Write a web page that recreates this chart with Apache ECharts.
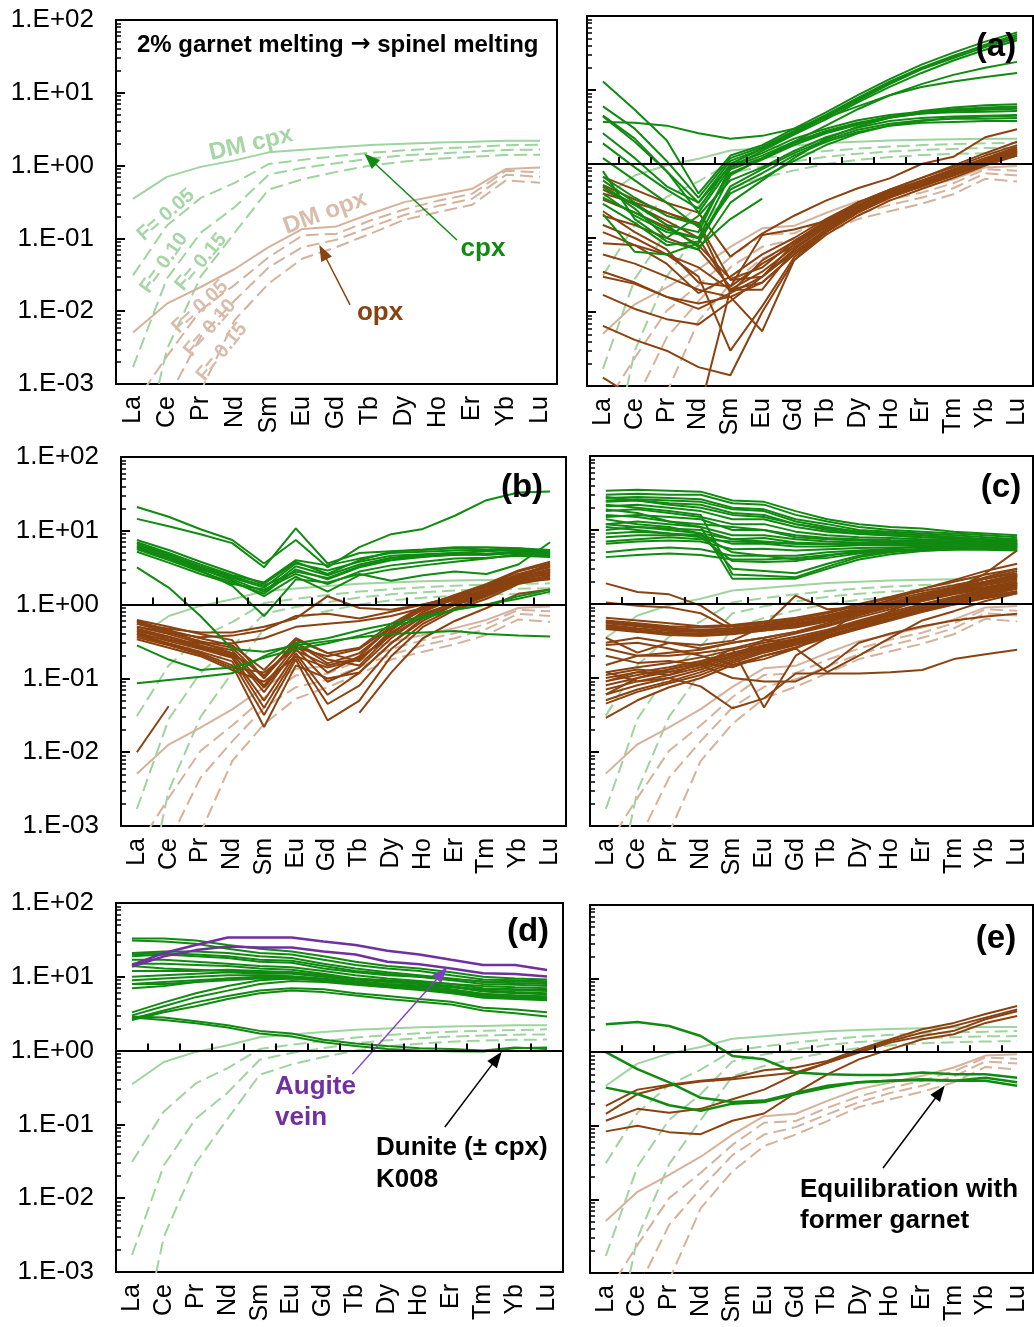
<!DOCTYPE html>
<html><head><meta charset="utf-8">
<script src="https://cdn.jsdelivr.net/npm/echarts@6/dist/echarts.min.js"></script>
<style>html,body{margin:0;padding:0;background:#fff}#c{width:1034px;height:1327px}</style>
</head><body><div id="c"></div>
<script>
// ---------- categories & ticks ----------
const REE14 = ['La','Ce','Pr','Nd','Sm','Eu','Gd','Tb','Dy','Ho','Er','Tm','Yb','Lu'];
const REE13 = ['La','Ce','Pr','Nd','Sm','Eu','Gd','Tb','Dy','Ho','Er','Yb','Lu'];
const yDecades = [-3,-2,-1,0,1,2];

// ---------- melting models (normalised values, La..Lu incl. Tm) ----------
const dmCpx  = [0.35, 0.7, 0.96, 1.18, 1.52, 1.65, 1.78, 1.92, 2.0, 2.07, 2.12, 2.16, 2.2, 2.2];
const cpxF05 = [0.031, 0.15, 0.36, 0.58, 1.05, 1.2, 1.35, 1.5, 1.62, 1.72, 1.8, 1.86, 1.9, 1.94];
const cpxF10 = [0.0017, 0.028, 0.12, 0.27, 0.75, 0.93, 1.08, 1.25, 1.38, 1.47, 1.55, 1.6, 1.64, 1.66];
const cpxF15 = [0.00003, 0.003, 0.03, 0.12, 0.47, 0.65, 0.82, 1.0, 1.14, 1.24, 1.32, 1.37, 1.4, 1.41];
const dmOpx  = [0.0051, 0.0127, 0.0215, 0.038, 0.076, 0.135, 0.146, 0.218, 0.315, 0.388, 0.48, 0.62, 0.9, 0.94];
const opxF05 = [0.0005, 0.0024, 0.0104, 0.023, 0.055, 0.11, 0.116, 0.176, 0.25, 0.33, 0.41, 0.55, 0.85, 0.81];
const opxF10 = [0.00008, 0.0006, 0.0045, 0.014, 0.04, 0.076, 0.096, 0.143, 0.21, 0.28, 0.35, 0.47, 0.75, 0.7];
const opxF15 = [0.00001, 0.0001, 0.0008, 0.0076, 0.024, 0.053, 0.076, 0.116, 0.18, 0.23, 0.29, 0.39, 0.63, 0.58];

// ---------- panel (a) ----------
const panelA_cpx = [
 [13, 5.4, 2.1, 0.4, 1.3, 1.8, 3.0, 5.0, 8.5, 14, 22, 32, 45, 60],
 [6, 3, 1.1, 0.35, 1.2, 1.7, 2.8, 4.6, 7.8, 13, 20, 29, 40, 53],
 [4.5, 2.2, 0.8, 0.3, 1.1, 1.6, 2.6, 4.3, 7.2, 12, 19, 27, 38, 50],
 [0.6, 0.3, 0.15, 0.12, 0.9, 1.5, 2.5, 4.0, 6.8, 11, 17, 25, 35, 47],
 [1.9, 0.9, 0.45, 0.25, 1.0, 1.6, 2.7, 4.4, 7.5, 12.5, 19.5, 28, 41, 56],
 [3.7, 3.6, 3.3, 2.6, 2.2, 2.4, 3.0, 4.2, 6.0, 8.5, 11, 13, 15, 17],
 [0.4, 0.2, 0.12, 0.1, 0.7, 1.2, 2.0, 3.3, 5.5, 8.5, 12, 16, 20, 24],
 [4.4, 2.0, 0.8, 0.22, 0.9, 1.3, 2.0, 2.8, 3.6, 4.3, 4.8, 5.0, 5.1, 5.2],
 [0.67, 0.35, 0.2, 0.15, 0.75, 1.15, 1.8, 2.6, 3.4, 4.2, 4.8, 5.2, 5.4, 5.6],
 [0.49, 0.25, 0.1, 0.2, 0.6, 0.9, 1.5, 2.3, 3.1, 3.8, 4.2, 4.4, 4.5, 4.6],
 [0.29, 0.16, 0.08, 0.09, 0.5, 0.85, 1.4, 2.1, 2.9, 3.5, 3.9, 4.1, 4.1, 4.2],
 [0.21, 0.065, 0.06, 0.085, 0.45, 0.75, 1.3, 2.0, 2.7, 3.3, 3.6, 3.7, 3.8, 3.8],
 [1.2, 0.6, 0.3, 0.14, 0.85, 1.2, 1.9, 2.7, 3.5, 4.4, 5.0, 5.5, 5.8, 6.0],
 [0.35, 0.22, 0.13, 0.1, 0.4, 0.65, 1.1, 1.8, 2.6, 3.3, 3.8, 4.2, 4.4, 4.5],
 [0.8, 0.18, 0.09, 0.07, 0.3, 0.6, 1.2, 2.2, 3.2, 4.2, 5.2, 5.8, 6.2, 6.4],
 [2.6, 1.2, 0.5, 0.3, 0.95, 1.4, 2.2, 3.0, 3.9, 4.6, 5.1, 5.4, 5.6, 5.7],
 [0.5, 0.28, 0.15, 0.075, 0.18, 0.34, null, null, null, null, null, null, null, null]
];
const panelA_opx = [
 [0.67, 0.45, 0.3, 0.22, 0.056, 0.115, 0.2, 0.32, 0.47, 0.64, 1.0, 1.25, 2.3, 2.95],
 [0.52, 0.33, 0.22, 0.16, 0.027, 0.03, 0.084, 0.16, 0.3, 0.45, 0.65, 0.95, 1.4, 2.0],
 [0.33, 0.22, 0.14, 0.08, 0.028, 0.04, 0.09, 0.17, 0.3, 0.43, 0.6, 0.85, 1.2, 1.6],
 [0.23, 0.12, 0.07, 0.025, 0.022, 0.045, 0.08, 0.15, 0.26, 0.4, 0.55, 0.8, 1.15, 1.5],
 [0.12, 0.08, 0.045, 0.018, 0.03, 0.06, 0.1, 0.18, 0.3, 0.45, 0.65, 0.9, 1.3, 1.8],
 [0.085, 0.08, 0.06, 0.04, 0.02, 0.02, 0.07, 0.14, 0.25, 0.38, 0.52, 0.72, 1.05, 1.4],
 [0.035, 0.025, 0.016, 0.011, 0.018, 0.05, 0.09, 0.16, 0.28, 0.42, 0.58, 0.82, 1.2, 1.7],
 [0.03, 0.024, 0.016, 0.013, 0.016, 0.0055, 0.05, 0.12, 0.22, 0.35, 0.5, 0.7, 1.0, 1.35],
 [0.017, 0.011, 0.008, 0.0068, 0.014, 0.03, 0.065, 0.13, 0.24, 0.37, 0.52, 0.75, 1.1, 1.5],
 [0.0065, 0.0042, 0.003, 0.0018, 0.0014, 0.01, 0.05, 0.11, 0.2, 0.32, 0.46, 0.65, 0.95, 1.3],
 [0.0013, 0.0007, 0.0005, 0.0004, 0.02, 0.035, 0.075, 0.14, 0.25, 0.38, 0.53, 0.75, 1.1, 1.45],
 [0.45, 0.28, 0.17, 0.1, 0.02, 0.025, 0.06, 0.12, 0.22, 0.36, 0.5, 0.7, 1.0, 1.3],
 [0.15, 0.1, 0.06, 0.03, 0.003, 0.012, 0.055, 0.12, 0.23, 0.36, 0.5, 0.72, 1.05, 1.4],
 [0.4, 0.3, 0.22, 0.15, 0.018, 0.03, 0.07, 0.15, 0.27, 0.42, 0.58, 0.8, 1.15, 1.55],
 [0.06, 0.045, 0.03, 0.02, 0.016, 0.025, 0.06, 0.13, 0.24, 0.38, 0.54, 0.78, 1.15, 1.6],
 [0.2, 0.15, 0.1, 0.07, 0.022, 0.11, 0.13, 0.17, 0.27, 0.4, 0.55, 0.78, 1.1, 1.45]
];

// ---------- panel (b) ----------
const panelB_cpx = [
 [21, 15.5, 10.5, 7.5, 3.6, 7.5, 3.2, 6, 9, 10.6, 16, 26, 33, 34],
 [14.5, 11.5, 9, 6.8, 3.2, 10.8, 3.6, 5.0, 5.3, 5.6, 6.0, 6.0, 5.8, 5.5],
 [7.5, 5.5, 3.8, 2.7, 1.9, 3.8, 2.6, 4.0, 5.2, 5.5, 5.8, 5.6, 5.8, 5.2],
 [7.0, 5.0, 3.5, 2.5, 2.0, 4.0, 3.4, 4.2, 5.0, 5.2, 5.4, 5.5, 5.6, 5.0],
 [6.5, 4.6, 3.2, 2.3, 1.7, 3.6, 2.9, 3.8, 4.6, 4.8, 5.0, 5.3, 5.5, 4.8],
 [6.0, 4.3, 3.0, 2.2, 1.5, 3.3, 2.5, 3.5, 4.3, 4.7, 5.0, 4.9, 5.2, 4.6],
 [5.6, 4.0, 2.8, 2.0, 1.4, 3.0, 2.2, 3.2, 4.0, 4.4, 4.8, 4.7, 5.0, 4.5],
 [5.2, 3.7, 2.6, 1.9, 1.6, 2.6, 1.9, 2.8, 3.4, 3.8, 4.2, 4.3, 4.6, 4.4],
 [6.2, 4.4, 3.1, 2.1, 1.3, 2.4, 1.5, 2.5, 3.0, 3.4, 3.8, 4.2, 4.8, 4.8],
 [5.8, 4.2, 2.9, 1.8, 0.7, 2.2, 2.0, 2.6, 2.1, 2.5, 2.8, 2.6, 3.5, 7.0],
 [3.2, 1.7, 0.7, 0.25, 0.23, 0.28, 0.32, 0.36, 0.4, 0.42, 0.44, 0.4, 0.38, 0.37],
 [0.28, 0.18, 0.13, 0.14, 0.19, 0.25, 0.3, 0.38, 0.5, 0.65, 0.85, 1.0, 1.3, 1.6],
 [0.086, 0.095, 0.105, 0.117, 0.2, 0.3, 0.35, 0.45, 0.55, 0.7, 0.85, 1.0, 1.2, 1.5],
 [6.8, 4.8, 3.3, 2.4, 1.8, 2.8, 2.3, 3.3, 4.2, 4.5, 4.7, 4.8, 5.3, 5.1]
];
const panelB_opx = [
 [0.6, 0.45, 0.35, 0.28, 0.13, 0.35, 0.22, 0.17, 0.45, 0.9, 1.3, 1.8, 2.8, 3.6],
 [0.55, 0.42, 0.32, 0.26, 0.1, 0.3, 0.18, 0.15, 0.4, 0.8, 1.2, 1.6, 2.5, 3.2],
 [0.5, 0.4, 0.3, 0.24, 0.08, 0.28, 0.12, 0.2, 0.5, 0.95, 1.35, 1.9, 2.9, 3.8],
 [0.47, 0.37, 0.28, 0.22, 0.065, 0.25, 0.09, 0.14, 0.35, 0.7, 1.1, 1.5, 2.3, 3.0],
 [0.45, 0.34, 0.26, 0.2, 0.05, 0.22, 0.06, 0.12, 0.3, 0.6, 1.0, 1.4, 2.1, 2.7],
 [0.42, 0.32, 0.25, 0.19, 0.04, 0.2, 0.045, 0.08, 0.25, 0.55, 0.9, 1.3, 2.0, 2.5],
 [0.4, 0.3, 0.23, 0.17, 0.032, 0.18, 0.027, 0.05, 0.2, 0.5, 0.85, 1.2, 1.9, 2.3],
 [0.38, 0.29, 0.22, 0.15, 0.022, 0.15, 0.1, 0.12, 0.3, 0.65, 1.0, 1.3, 2.0, 2.2],
 [0.36, 0.28, 0.21, 0.14, 0.12, 0.26, 0.2, 0.25, 0.5, 0.85, 1.2, 1.6, 2.4, 3.0],
 [0.34, 0.26, 0.2, 0.13, 0.09, 0.2, 0.14, 0.18, 0.42, 0.75, 1.05, 1.45, 2.2, 2.6],
 [0.55, 0.47, 0.42, 0.42, 0.5, 0.65, 1.3, 0.9, 0.85, 1.0, 1.3, 1.7, 2.5, 3.5],
 [0.5, 0.42, 0.36, 0.38, 0.45, 0.7, 0.75, 0.65, 0.8, 1.0, 1.25, 1.5, 2.2, 3.0],
 [0.62, 0.5, 0.4, 0.33, 0.1, 0.33, 0.22, 0.26, 0.55, 0.95, 1.25, 1.75, 2.6, 3.3],
 [0.58, 0.44, 0.31, 0.22, 0.11, 0.3, 0.16, 0.22, 0.48, 0.88, 1.2, 1.5, 2.3, 2.8],
 [0.44, 0.36, 0.27, 0.21, 0.075, 0.24, 0.15, 0.19, 0.38, 0.7, 1.0, 1.35, 2.0, 2.4],
 [null, null, null, null, null, null, null, 0.034, 0.12, 0.35, 0.6, 0.9, 1.4, 1.6],
 [0.01, 0.042, null, null, null, null, null, null, null, null, null, null, null, null],
 [0.4, 0.33, 0.3, 0.3, 0.35, 0.5, 0.55, 0.6, 0.7, 0.9, 1.15, 1.4, 2.0, 2.8]
];

// ---------- panel (c) ----------
const panelC_cpx = [
 [34, 35, 34, 33, 25, 24, 18, 14, 12, 11, 10.5, 9.5, 9, 8.5],
 [30, 31, 30, 30, 23, 22, 16, 13, 11, 10, 9.5, 9, 8.5, 8],
 [27, 28, 27, 26, 20, 19, 14, 12, 10, 9.5, 9, 8.5, 8, 7.5],
 [24, 25, 23, 22, 17, 16, 12, 10.5, 9.5, 9, 8.5, 8, 7.5, 7.2],
 [21, 22, 20, 18, 14, 14, 11, 9.5, 8.8, 8.4, 8, 7.7, 7.3, 7],
 [18, 19, 17, 15, 12, 12, 9.5, 8.5, 8, 7.8, 7.5, 7.3, 7, 6.8],
 [15, 16, 15, 14, 10, 10, 8.5, 7.8, 7.5, 7.3, 7.2, 7, 6.8, 6.5],
 [12, 13, 12, 11, 8.5, 8.5, 7.5, 7, 6.8, 6.8, 6.7, 6.6, 6.5, 6.3],
 [10, 11, 10.5, 10, 7.5, 7.8, 6.8, 6.5, 6.5, 6.5, 6.5, 6.4, 6.3, 6.1],
 [8, 8.5, 8.5, 8.5, 6.5, 6.5, 6, 6, 6.2, 6.2, 6.2, 6.2, 6.1, 6],
 [6.5, 7, 7.2, 7, 5.5, 5.6, 5.3, 5.5, 5.7, 5.8, 5.9, 5.9, 5.8, 5.7],
 [5, 5.5, 5.8, 5.5, 4.5, 4.5, 4.5, 5, 5.3, 5.4, 5.5, 5.6, 5.5, 5.4],
 [4.3, 4.6, 4.8, 4.6, 4.0, 4.0, 4.2, 4.6, 5.0, 5.2, 5.3, 5.4, 5.4, 5.3],
 [22, 20, 18, 16, 2.5, 2.4, 2.3, 3.2, 4.3, 5, 5.5, 5.8, 6, 6],
 [16, 15, 13, 11, 2.2, 2.2, 2.2, 3, 4, 4.7, 5.2, 5.5, 5.8, 5.8],
 [12, 11, 10, 9, 3.0, 2.8, 2.6, 3.5, 4.5, 5.2, 5.6, 6, 6.2, 6.3],
 [9, 9.5, 9, 8, 3.8, 3.7, 3.8, 4.5, 5.2, 5.6, 6, 6.3, 6.5, 6.5],
 [28, 25, 22, 20, 16, 15, 12, 10, 9, 8.5, 8, 7.8, 7.5, 7.2],
 [19, 17, 13, 12, 11, 10, 8, 7.5, 7.2, 7, 6.9, 6.8, 6.6, 6.4],
 [14, 12, 11, 9, 7.5, 7, 6.5, 6.5, 6.5, 6.6, 6.7, 6.8, 6.8, 6.7],
 [25, 26, 25, 24, 19, 18, 13, 11, 9.5, 9, 8.5, 8, 7.5, 7],
 [11, 10, 9, 8.5, 5, 4.5, 4.0, 4.2, 4.8, 5.2, 5.5, 5.6, 5.6, 5.5],
 [7, 7.5, 8, 7.5, 7, 6.8, 6.5, 6.4, 6.3, 6.3, 6.2, 6.1, 6, 5.9]
];
const panelC_opx = [
 [0.6, 0.55, 0.5, 0.48, 0.5, 0.55, 0.62, 0.75, 0.95, 1.2, 1.5, 1.8, 2.2, 2.6],
 [0.57, 0.52, 0.47, 0.45, 0.47, 0.52, 0.58, 0.7, 0.9, 1.12, 1.4, 1.7, 2.0, 2.4],
 [0.55, 0.5, 0.45, 0.43, 0.45, 0.5, 0.55, 0.67, 0.85, 1.05, 1.3, 1.6, 1.9, 2.2],
 [0.52, 0.47, 0.43, 0.42, 0.43, 0.48, 0.53, 0.64, 0.82, 1.0, 1.25, 1.5, 1.8, 2.1],
 [0.5, 0.45, 0.41, 0.4, 0.42, 0.47, 0.52, 0.62, 0.78, 0.97, 1.2, 1.45, 1.7, 2.0],
 [0.48, 0.43, 0.4, 0.38, 0.4, 0.45, 0.5, 0.6, 0.75, 0.93, 1.15, 1.4, 1.65, 1.9],
 [0.46, 0.42, 0.38, 0.37, 0.39, 0.44, 0.48, 0.58, 0.72, 0.9, 1.1, 1.35, 1.6, 1.8],
 [0.58, 0.53, 0.48, 0.44, 0.4, 0.44, 0.5, 0.6, 0.8, 1.0, 1.3, 1.6, 2.0, 2.5],
 [0.12, 0.14, 0.16, 0.19, 0.24, 0.3, 0.36, 0.45, 0.6, 0.78, 1.0, 1.25, 1.55, 1.9],
 [0.1, 0.12, 0.14, 0.17, 0.22, 0.28, 0.34, 0.43, 0.57, 0.74, 0.95, 1.2, 1.5, 1.8],
 [0.09, 0.11, 0.13, 0.16, 0.21, 0.27, 0.33, 0.42, 0.55, 0.72, 0.92, 1.15, 1.45, 1.75],
 [0.08, 0.1, 0.12, 0.15, 0.2, 0.26, 0.32, 0.41, 0.54, 0.7, 0.9, 1.12, 1.4, 1.7],
 [0.07, 0.09, 0.11, 0.14, 0.19, 0.25, 0.31, 0.4, 0.53, 0.68, 0.88, 1.1, 1.35, 1.65],
 [0.06, 0.08, 0.1, 0.13, 0.18, 0.24, 0.3, 0.38, 0.5, 0.65, 0.85, 1.05, 1.3, 1.6],
 [0.05, 0.07, 0.09, 0.12, 0.17, 0.23, 0.29, 0.37, 0.48, 0.63, 0.82, 1.0, 1.25, 1.5],
 [0.045, 0.065, 0.085, 0.11, 0.16, 0.22, 0.28, 0.36, 0.47, 0.62, 0.8, 1.0, 1.2, 1.45],
 [0.029, 0.05, 0.075, 0.1, 0.15, 0.2, 0.26, 0.35, 0.46, 0.6, 0.78, 0.98, 1.2, 1.4],
 [0.11, 0.13, 0.12, 0.15, 0.25, 0.32, 0.4, 0.5, 0.66, 0.85, 1.1, 1.4, 1.8, 2.3],
 [1.9, 1.45, 1.35, 0.95, 0.5, 0.55, 0.6, 0.7, 0.85, 1.05, 1.3, 1.6, 2.0, 2.4],
 [1.05, 0.95, 0.9, 0.75, 0.45, 0.5, 0.55, 0.62, 0.8, 1.0, 1.25, 1.55, 2.6, 5.3],
 [0.25, 0.2, 0.2, 0.22, 0.25, 0.04, 0.2, 0.35, 0.5, 0.7, 0.9, 1.15, 1.5, 1.9],
 [0.3, 0.35, 0.3, 0.28, 0.32, 0.5, 1.3, 0.85, 0.9, 1.05, 1.3, 1.6, 2.0, 2.5],
 [0.12, 0.09, 0.1, 0.077, 0.039, 0.053, 0.115, 0.115, 0.115, 0.12, 0.128, 0.18, 0.21, 0.24],
 [0.2, 0.16, 0.17, 0.15, 0.1, 0.09, 0.09, 0.14, 0.3, 0.4, 0.5, 0.6, 0.68, 0.74],
 [0.28, 0.3, 0.25, 0.2, 0.15, 0.18, 0.25, 0.4, 0.8, 1.15, 1.6, 2.1, 2.8, 3.5],
 [0.35, 0.22, 0.3, 0.25, 0.3, 0.35, 0.42, 0.55, 0.75, 0.98, 1.3, 1.7, 2.3, 3.0],
 [0.15, 0.2, 0.22, 0.24, 0.3, 0.35, 0.42, 0.52, 0.7, 0.92, 1.2, 1.5, 1.9, 2.4],
 [0.65, 0.6, 0.55, 0.5, 0.52, 0.58, 0.65, 0.78, 1.0, 1.25, 1.6, 2.0, 2.5, 3.0],
 [0.09, 0.12, 0.11, 0.16, 0.19, 0.33, 0.3, 0.35, 0.5, 0.8, 1.2, 1.6, 2.2, 2.8],
 [0.06, 0.1, 0.13, 0.16, 0.14, 0.2, 0.25, 0.12, 0.2, 0.35, 0.6, 0.8, 1.1, 1.4]
];

// ---------- panel (d) ----------
const panelD_cpx = [
 [33, 33, 31, 27, 24, 22, 19, 16, 14, 13, 11.5, 10, 9.5, 9.2],
 [31, 30, 28, 24, 21, 20, 17, 14.5, 13, 12, 10.5, 9.2, 9, 8.7],
 [21, 22, 22, 21, 19, 18, 15, 13, 11.5, 10.5, 9.5, 8.5, 8.2, 8],
 [19, 20, 19, 18, 16, 15.5, 13, 11.5, 10.5, 10, 9, 8, 7.8, 7.5],
 [17, 17, 16, 15, 14, 13.5, 12, 10.5, 9.5, 8.8, 8, 7, 6.8, 6.6],
 [15, 15, 14.5, 14, 13, 12.5, 11, 9.5, 8.8, 8.2, 7.5, 6.5, 6.2, 6],
 [12, 12, 12, 12.5, 12, 11.5, 10.5, 9.2, 8.5, 8, 7.3, 6.3, 6, 5.8],
 [10, 10.5, 11, 11.5, 11, 11, 10, 8.8, 8, 7.5, 6.8, 5.8, 5.6, 5.4],
 [9, 9.5, 10, 10.5, 10.5, 10.2, 9.5, 8.3, 7.6, 7.0, 6.4, 5.6, 5.4, 5.2],
 [8, 8.5, 9, 9.5, 9.8, 9.7, 9, 8, 7.3, 6.8, 6.2, 5.4, 5.2, 5.0],
 [7, 7.5, 8.5, 9.5, 10, 10, 9.3, 8.4, 7.8, 7.3, 6.7, 5.9, 5.6, 5.4],
 [3.3, 4.5, 6, 7.5, 9, 9.5, 9, 8.2, 7.5, 7, 6.4, 5.6, 5.3, 5.1],
 [3.0, 4.0, 5.3, 6.5, 8, 8.8, 8.5, 7.8, 7.2, 6.6, 6, 5.2, 5, 4.8],
 [2.7, 3.5, 4.5, 5.5, 6.5, 7, 6.8, 6, 5.5, 5, 4.6, 3.8, 3.6, 3.3],
 [2.6, 3.3, 4.0, 5.0, 6.0, 6.5, 6.2, 5.6, 5.0, 4.6, 4.2, 3.5, 3.2, 2.9],
 [2.9, 2.8, 2.5, 2.2, 1.85, 1.7, 1.4, 1.25, 1.15, 1.08, 1.05, 1.0, 1.1, 1.05],
 [2.8, 2.6, 2.35, 2.05, 1.7, 1.55, 1.3, 1.15, 1.05, 1.0, 0.98, 0.97, 1.08, 1.1],
 [20, 21, 20, 19, 17, 16.5, 14, 12, 11, 10, 9.3, 8.7, 8.6, 8.5],
 [14, 13, 12.5, 12, 11.5, 11.5, 10.5, 9.5, 9, 8.5, 8, 7.5, 7.2, 7],
 [8, 8, 8.5, 9, 9.5, 9.5, 9, 8.5, 8, 7.6, 7.2, 6.8, 6.6, 6.4]
];
const panelD_augite = [
 [14.5, 21, 27, 34, 34, 34, 30, 27, 22.5, 20, 17, 14.5, 14.5, 12.4],
 [13.8, 18.9, 23, 25.8, 25, 25, 22, 20, 16, 14.8, 13, 11.2, 10.9, 10.1]
];

// ---------- panel (e) ----------
const panelE_cpx = [
 [2.4, 2.58, 2.27, 1.66, 0.89, 0.8, 0.53, 0.5, 0.49, 0.49, 0.53, 0.5, 0.5, 0.45],
 [1.0, 0.59, 0.39, 0.24, 0.21, 0.22, 0.28, 0.35, 0.39, 0.41, 0.43, 0.41, 0.45, 0.39],
 [0.33, 0.27, 0.19, 0.16, 0.2, 0.21, 0.27, 0.33, 0.39, 0.41, 0.42, 0.41, 0.41, 0.35]
];
const panelE_opx = [
 [0.187, 0.31, 0.36, 0.41, 0.45, 0.57, 0.62, 0.76, 1.1, 1.5, 2.05, 2.5, 3.3, 4.25],
 [0.145, 0.27, 0.35, 0.4, 0.43, 0.48, 0.53, 0.72, 1.04, 1.42, 1.85, 2.27, 2.95, 3.8],
 [0.117, 0.17, 0.15, 0.17, 0.23, 0.31, 0.5, 0.72, 0.99, 1.35, 1.66, 1.95, 2.8, 3.6],
 [0.084, 0.1, 0.082, 0.077, 0.117, 0.147, 0.28, 0.5, 0.8, 1.1, 1.5, 1.75, 2.5, 3.1]
];

// ---------- styling / layout ----------
const FONT = "'Liberation Sans', Arial, sans-serif";
const COL = {green:'#108a10', brown:'#8a4210', lgreen:'#9fd39f', lbrown:'#d5b29c', purple:'#7030a0'};
const panels = [
  {left:116, top:20,  width:441, height:364, cats:REE13, yLabels:true,  oneAxis:false},
  {left:587, top:16,  width:446, height:370, cats:REE14, yLabels:false, oneAxis:true},
  {left:121, top:457, width:445, height:369, cats:REE14, yLabels:true,  oneAxis:true},
  {left:590, top:456, width:443, height:370, cats:REE14, yLabels:false, oneAxis:true},
  {left:116, top:903, width:447, height:369, cats:REE14, yLabels:true,  oneAxis:true},
  {left:590, top:905, width:443, height:368, cats:REE14, yLabels:false, oneAxis:true}
];
const dropTm = arr => arr.filter((v, i) => i !== 11);
const minorLogs = [];
for (let d = -3; d < 2; d++) for (let k = 2; k <= 9; k++) minorLogs.push(d + Math.log10(k));

const grid = [], xAxis = [], yAxis = [], series = [];
panels.forEach((p, i) => {
  grid.push({left:p.left, top:p.top, width:p.width, height:p.height, show:true,
    borderColor:'#000', borderWidth:2, backgroundColor:'transparent'});
  xAxis.push({gridIndex:i, type:'category', data:p.cats, boundaryGap:true, position:'bottom',
    axisLine:{show:false}, axisTick:{show:false}, splitLine:{show:false},
    axisLabel:{rotate:90, fontSize:25, color:'#000', fontFamily:FONT, margin:12, interval:0}});
  xAxis.push({gridIndex:i, type:'category', data:p.cats, boundaryGap:true, position:'top',
    offset:-(p.height * 0.4), show:p.oneAxis, z:10,
    axisLine:{show:true, lineStyle:{color:'#000', width:2}},
    axisTick:{show:true, length:7, lineStyle:{color:'#000', width:2}},
    axisLabel:{show:false}, splitLine:{show:false}});
  xAxis.push({gridIndex:i, type:'value', min:-0.5, max:p.cats.length - 0.5, position:'bottom', show:false});
  yAxis.push({gridIndex:i, type:'log', logBase:10, min:0.001, max:100, position:'left', show:false});
  yAxis.push({gridIndex:i, type:'value', min:-3, max:2, interval:1, position:'left',
    axisLine:{show:false}, splitLine:{show:false},
    axisTick:{show:true, inside:true, length:9, lineStyle:{color:'#000', width:2}},
    axisLabel:{show:p.yLabels, fontSize:26, color:'#000', fontFamily:FONT, margin:22,
      formatter: v => '1.E' + (v < 0 ? '-' : '+') + String(Math.abs(Math.round(v))).padStart(2, '0')}});
  yAxis.push({gridIndex:i, type:'value', min:-3, max:2, position:'left',
    axisLine:{show:false}, splitLine:{show:false}, axisLabel:{show:false},
    axisTick:{show:true, inside:true, length:5, customValues:minorLogs, lineStyle:{color:'#000', width:1.5}}});
});

function addLine(pi, data, color, dashed, width) {
  series.push({type:'line', xAxisIndex:3 * pi, yAxisIndex:3 * pi, data:data, symbol:'none', showSymbol:false,
    silent:true, animation:false, connectNulls:false, clip:true, z:2,
    lineStyle:{color:color, width:width || 2, type: dashed ? [13, 6] : 'solid'}, itemStyle:{color:color}});
}
function addModels(pi, withCpx, withOpx, tr) {
  if (withCpx) {
    addLine(pi, tr(dmCpx), COL.lgreen, false);
    [cpxF05, cpxF10, cpxF15].forEach(a => addLine(pi, tr(a), COL.lgreen, true));
  }
  if (withOpx) {
    addLine(pi, tr(dmOpx), COL.lbrown, false);
    [opxF05, opxF10, opxF15].forEach(a => addLine(pi, tr(a), COL.lbrown, true));
  }
}
const same = a => a;
addModels(0, true, true, dropTm);
addModels(1, true, true, same);
addModels(2, true, true, same);
addModels(3, true, true, same);
addModels(4, true, false, same);
addModels(5, true, true, same);
panelA_opx.forEach(d => addLine(1, d, COL.brown));
panelA_cpx.forEach(d => addLine(1, d, COL.green));
panelB_opx.forEach(d => addLine(2, d, COL.brown));
panelB_cpx.forEach(d => addLine(2, d, COL.green));
panelC_opx.forEach(d => addLine(3, d, COL.brown));
panelC_cpx.forEach(d => addLine(3, d, COL.green));
panelD_cpx.forEach(d => addLine(4, d, COL.green));
panelD_augite.forEach(d => addLine(4, d, COL.purple, false, 2.5));
panelE_opx.forEach(d => addLine(5, d, COL.brown));
panelE_cpx.forEach(d => addLine(5, d, COL.green, false, 2.5));

// annotation arrows in data coordinates (x = category index, y = value)
function arrow(from, to, color) {
  return [
    {coord:from, symbol:'none', lineStyle:{color:color, width:1.5, type:'solid'}, itemStyle:{color:color}},
    {coord:to, symbol:'triangle', symbolSize:[12, 16], itemStyle:{color:color}}
  ];
}
function addAnno(pi, lines) {
  series.push({type:'line', xAxisIndex:3 * pi + 2, yAxisIndex:3 * pi, data:[], silent:true, animation:false,
    markLine:{silent:true, animation:false, symbol:['none', 'triangle'], symbolSize:[12, 16],
      label:{show:false}, data:lines}});
}
addAnno(0, [
  [{yAxis:1, symbol:'none', lineStyle:{color:'#000', width:2, type:[7, 5]}}, {yAxis:1, symbol:'none'}],
  arrow([9.55, 0.095], [6.99, 1.23], COL.green),
  arrow([6.4, 0.0122], [5.6, 0.065], COL.brown)
]);
addAnno(4, [
  arrow([6.9, 0.48], [9.71, 11.2], '#8040c0'),
  arrow([9.8, 0.092], [11.43, 0.79], '#000')
]);
addAnno(5, [arrow([8.76, 0.0267], [10.56, 0.288], '#000')]);

function txt(x, y, text, size, color, opts) {
  opts = opts || {};
  const style = {text:text, fill:color, font:'bold ' + size + 'px ' + FONT,
      align:opts.align || 'left', verticalAlign:'middle'};
  if (opts.rich) style.rich = opts.rich;
  return {type:'text', x:x, y:y, rotation:(opts.rot || 0) * Math.PI / 180, silent:true, z:100, style:style};
}
const graphic = [
  txt(137, 45, '2% garnet melting {ar|\u2192} spinel melting', 24, '#000',
      {rich:{ar:{font:"bold 24px 'DejaVu Sans'", fill:'#000'}}}),
  txt(251, 144, 'DM cpx', 24, '#a6d6a6', {rot:13, align:'center'}),
  txt(325, 213, 'DM opx', 24, '#d9bcab', {rot:20, align:'center'}),
  txt(166, 215, 'F= 0.05', 20, '#a6d6a6', {rot:41, align:'center'}),
  txt(164, 263, 'F= 0.10', 20, '#a6d6a6', {rot:55, align:'center'}),
  txt(201, 262, 'F= 0.15', 20, '#a6d6a6', {rot:50, align:'center'}),
  txt(200, 307, 'F= 0.05', 20, '#d9bcab', {rot:43, align:'center'}),
  txt(210, 328, 'F= 0.10', 20, '#d9bcab', {rot:49, align:'center'}),
  txt(222, 352, 'F= 0.15', 20, '#d9bcab', {rot:51, align:'center'}),
  txt(483, 249, 'cpx', 26, COL.green, {align:'center'}),
  txt(380, 313, 'opx', 26, COL.brown, {align:'center'}),
  txt(996, 47, '(a)', 33, '#000', {align:'center'}),
  txt(522, 488, '(b)', 33, '#000', {align:'center'}),
  txt(1001, 488, '(c)', 33, '#000', {align:'center'}),
  txt(528, 932, '(d)', 33, '#000', {align:'center'}),
  txt(996, 939, '(e)', 33, '#000', {align:'center'}),
  txt(275, 1087, 'Augite', 26, COL.purple),
  txt(275, 1118, 'vein', 26, COL.purple),
  txt(376, 1148, 'Dunite (\u00b1 cpx)', 26, '#000'),
  txt(376, 1180, 'K008', 26, '#000'),
  txt(800, 1190, 'Equilibration with', 26, '#000'),
  txt(800, 1221, 'former garnet', 26, '#000')
];

const chart = echarts.init(document.getElementById('c'), null, {renderer:'canvas'});
chart.setOption({animation:false, backgroundColor:'#fff', grid, xAxis, yAxis, series, graphic});
</script></body></html>
